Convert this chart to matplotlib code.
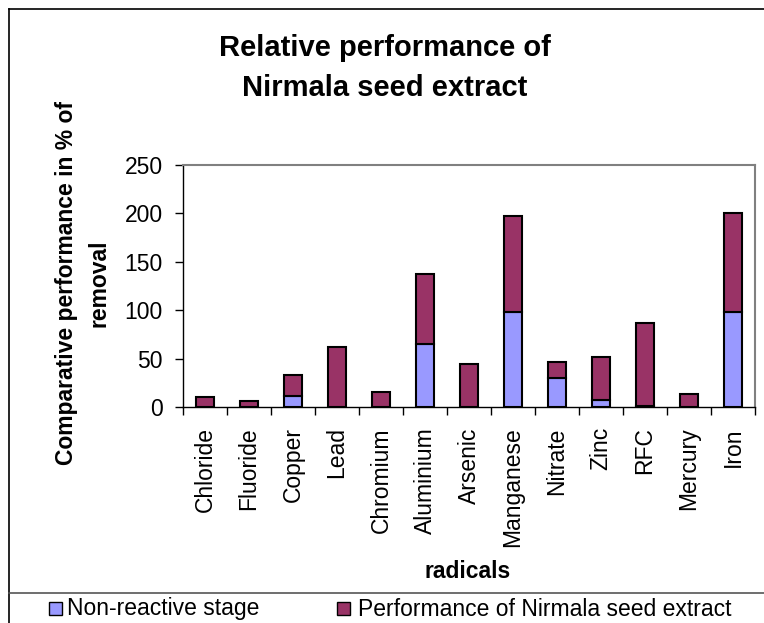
import matplotlib.pyplot as plt
import numpy as np
from matplotlib.patches import Rectangle
from matplotlib.lines import Line2D

plt.rcParams['font.family'] = ['Liberation Sans', 'DejaVu Sans']

radicals = ['Chloride', 'Fluoride', 'Copper', 'Lead', 'Chromium', 'Aluminium',
            'Arsenic', 'Manganese', 'Nitrate', 'Zinc', 'RFC', 'Mercury', 'Iron']
non_reactive = [0, 0, 11, 0, 0, 65, 0, 98, 30, 7, 1.5, 0, 98]
nirmala = [10, 6, 22, 62, 15, 72, 44, 99, 16, 45, 85.5, 13, 102]
yticks = [0, 50, 100, 150, 200, 250]

blue = '#9999FF'
maroon = '#993366'
fs = 16.5

W, H = 764, 623
fig = plt.figure(figsize=(W / 100, H / 100), dpi=100)

# plot area in pixels: left 183, right 755, top 165, bottom 407
ax = fig.add_axes([183 / W, 1 - 407 / H, (755 - 183) / W, (407 - 165) / H])

x = np.arange(len(radicals))
ax.bar(x, non_reactive, width=0.4, color=blue, edgecolor='black', linewidth=1.5)
ax.bar(x, nirmala, width=0.4, bottom=non_reactive, color=maroon,
       edgecolor='black', linewidth=1.5)

ax.set_xlim(-0.5, len(radicals) - 0.5)
ax.set_ylim(0, 250)
ax.set_yticks(yticks)
ax.tick_params(axis='y', labelsize=fs, direction='out', length=6, width=1, pad=8.5)

# ticks between categories, labels at category centres
ax.set_xticks(np.arange(len(radicals) + 1) - 0.5)
ax.set_xticklabels([])
ax.set_xticks(x, minor=True)
ax.set_xticklabels(radicals, minor=True, rotation=90, fontsize=fs)
ax.tick_params(axis='x', which='major', direction='out', length=6, width=1)
ax.tick_params(axis='x', which='minor', length=0, pad=14.5)

for s in ['top', 'right']:
    ax.spines[s].set_color('#808080')
    ax.spines[s].set_linewidth(1.5)
for s in ['left', 'bottom']:
    ax.spines[s].set_color('black')
    ax.spines[s].set_linewidth(1)

fig.text(385 / W, 1 - 48 / H, 'Relative performance of', ha='center', va='center',
         fontsize=21, fontweight='bold')
fig.text(385 / W, 1 - 88 / H, 'Nirmala seed extract', ha='center', va='center',
         fontsize=21, fontweight='bold')

fig.text(67 / W, 1 - 283 / H, 'Comparative performance in % of', rotation=90,
         ha='center', va='center', fontsize=fs, fontweight='bold')
fig.text(99 / W, 1 - 283 / H, 'removal', rotation=90,
         ha='center', va='center', fontsize=fs, fontweight='bold')

fig.text(468 / W, 1 - 572 / H, 'radicals', ha='center', va='center',
         fontsize=fs, fontweight='bold')

# chart border lines
fig.add_artist(Line2D([9 / W, 9 / W], [0, 1 - 9 / H], transform=fig.transFigure,
                      color='black', linewidth=1.2))
fig.add_artist(Line2D([9 / W, 1], [1 - 9 / H, 1 - 9 / H], transform=fig.transFigure,
                      color='black', linewidth=1.2))
fig.add_artist(Line2D([9 / W, 1], [1 - 593 / H, 1 - 593 / H], transform=fig.transFigure,
                      color='#555555', linewidth=1.2))

# legend along the bottom
fig.add_artist(Rectangle((49 / W, 1 - 615 / H), 13 / W, 13 / H, transform=fig.transFigure,
                         facecolor=blue, edgecolor='black', linewidth=1))
fig.text(67 / W, 1 - 609 / H, 'Non-reactive stage', ha='left', va='center', fontsize=fs)
fig.add_artist(Rectangle((337 / W, 1 - 615 / H), 13 / W, 13 / H, transform=fig.transFigure,
                         facecolor=maroon, edgecolor='black', linewidth=1))
fig.text(358 / W, 1 - 609 / H, 'Performance of Nirmala seed extract', ha='left',
         va='center', fontsize=fs)

fig.savefig('out.png', dpi=100)
